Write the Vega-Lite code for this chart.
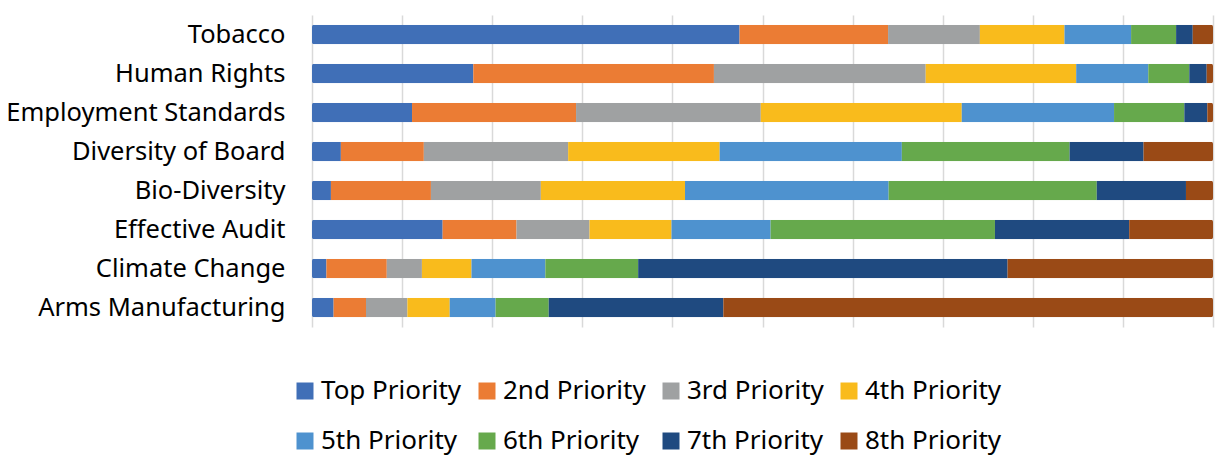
{
  "$schema": "https://vega.github.io/schema/vega-lite/v6.json",
  "autosize": {"type": "none"},
  "padding": {"left": 312, "top": 15, "right": 3, "bottom": 129},
  "width": 901,
  "height": 312,
  "background": "white",
  "config": {"view": {"stroke": null}, "font": "Noto Sans"},
  "data": {"values": [
    {"cat": "Tobacco", "p": "Top Priority", "o": 1, "v": 47.5},
    {"cat": "Tobacco", "p": "2nd Priority", "o": 2, "v": 16.5},
    {"cat": "Tobacco", "p": "3rd Priority", "o": 3, "v": 10.2},
    {"cat": "Tobacco", "p": "4th Priority", "o": 4, "v": 9.4},
    {"cat": "Tobacco", "p": "5th Priority", "o": 5, "v": 7.4},
    {"cat": "Tobacco", "p": "6th Priority", "o": 6, "v": 5.0},
    {"cat": "Tobacco", "p": "7th Priority", "o": 7, "v": 1.85},
    {"cat": "Tobacco", "p": "8th Priority", "o": 8, "v": 2.25},
    {"cat": "Human Rights", "p": "Top Priority", "o": 1, "v": 17.9},
    {"cat": "Human Rights", "p": "2nd Priority", "o": 2, "v": 26.7},
    {"cat": "Human Rights", "p": "3rd Priority", "o": 3, "v": 23.5},
    {"cat": "Human Rights", "p": "4th Priority", "o": 4, "v": 16.7},
    {"cat": "Human Rights", "p": "5th Priority", "o": 5, "v": 8.0},
    {"cat": "Human Rights", "p": "6th Priority", "o": 6, "v": 4.55},
    {"cat": "Human Rights", "p": "7th Priority", "o": 7, "v": 1.93},
    {"cat": "Human Rights", "p": "8th Priority", "o": 8, "v": 0.7},
    {"cat": "Employment Standards", "p": "Top Priority", "o": 1, "v": 11.1},
    {"cat": "Employment Standards", "p": "2nd Priority", "o": 2, "v": 18.2},
    {"cat": "Employment Standards", "p": "3rd Priority", "o": 3, "v": 20.5},
    {"cat": "Employment Standards", "p": "4th Priority", "o": 4, "v": 22.3},
    {"cat": "Employment Standards", "p": "5th Priority", "o": 5, "v": 16.9},
    {"cat": "Employment Standards", "p": "6th Priority", "o": 6, "v": 7.8},
    {"cat": "Employment Standards", "p": "7th Priority", "o": 7, "v": 2.55},
    {"cat": "Employment Standards", "p": "8th Priority", "o": 8, "v": 0.63},
    {"cat": "Diversity of Board", "p": "Top Priority", "o": 1, "v": 3.2},
    {"cat": "Diversity of Board", "p": "2nd Priority", "o": 2, "v": 9.2},
    {"cat": "Diversity of Board", "p": "3rd Priority", "o": 3, "v": 16.0},
    {"cat": "Diversity of Board", "p": "4th Priority", "o": 4, "v": 16.8},
    {"cat": "Diversity of Board", "p": "5th Priority", "o": 5, "v": 20.2},
    {"cat": "Diversity of Board", "p": "6th Priority", "o": 6, "v": 18.6},
    {"cat": "Diversity of Board", "p": "7th Priority", "o": 7, "v": 8.2},
    {"cat": "Diversity of Board", "p": "8th Priority", "o": 8, "v": 7.7},
    {"cat": "Bio-Diversity", "p": "Top Priority", "o": 1, "v": 2.1},
    {"cat": "Bio-Diversity", "p": "2nd Priority", "o": 2, "v": 11.1},
    {"cat": "Bio-Diversity", "p": "3rd Priority", "o": 3, "v": 12.2},
    {"cat": "Bio-Diversity", "p": "4th Priority", "o": 4, "v": 16.0},
    {"cat": "Bio-Diversity", "p": "5th Priority", "o": 5, "v": 22.6},
    {"cat": "Bio-Diversity", "p": "6th Priority", "o": 6, "v": 23.1},
    {"cat": "Bio-Diversity", "p": "7th Priority", "o": 7, "v": 9.9},
    {"cat": "Bio-Diversity", "p": "8th Priority", "o": 8, "v": 3.0},
    {"cat": "Effective Audit", "p": "Top Priority", "o": 1, "v": 14.5},
    {"cat": "Effective Audit", "p": "2nd Priority", "o": 2, "v": 8.2},
    {"cat": "Effective Audit", "p": "3rd Priority", "o": 3, "v": 8.1},
    {"cat": "Effective Audit", "p": "4th Priority", "o": 4, "v": 9.1},
    {"cat": "Effective Audit", "p": "5th Priority", "o": 5, "v": 11.0},
    {"cat": "Effective Audit", "p": "6th Priority", "o": 6, "v": 24.9},
    {"cat": "Effective Audit", "p": "7th Priority", "o": 7, "v": 14.9},
    {"cat": "Effective Audit", "p": "8th Priority", "o": 8, "v": 9.3},
    {"cat": "Climate Change", "p": "Top Priority", "o": 1, "v": 1.6},
    {"cat": "Climate Change", "p": "2nd Priority", "o": 2, "v": 6.7},
    {"cat": "Climate Change", "p": "3rd Priority", "o": 3, "v": 3.9},
    {"cat": "Climate Change", "p": "4th Priority", "o": 4, "v": 5.5},
    {"cat": "Climate Change", "p": "5th Priority", "o": 5, "v": 8.2},
    {"cat": "Climate Change", "p": "6th Priority", "o": 6, "v": 10.3},
    {"cat": "Climate Change", "p": "7th Priority", "o": 7, "v": 41.0},
    {"cat": "Climate Change", "p": "8th Priority", "o": 8, "v": 22.8},
    {"cat": "Arms Manufacturing", "p": "Top Priority", "o": 1, "v": 2.4},
    {"cat": "Arms Manufacturing", "p": "2nd Priority", "o": 2, "v": 3.6},
    {"cat": "Arms Manufacturing", "p": "3rd Priority", "o": 3, "v": 4.6},
    {"cat": "Arms Manufacturing", "p": "4th Priority", "o": 4, "v": 4.7},
    {"cat": "Arms Manufacturing", "p": "5th Priority", "o": 5, "v": 5.1},
    {"cat": "Arms Manufacturing", "p": "6th Priority", "o": 6, "v": 5.9},
    {"cat": "Arms Manufacturing", "p": "7th Priority", "o": 7, "v": 19.4},
    {"cat": "Arms Manufacturing", "p": "8th Priority", "o": 8, "v": 54.4}
  ]},
  "mark": {"type": "bar", "cornerRadius": 2},
  "encoding": {
    "y": {
      "field": "cat", "type": "nominal", "sort": null,
      "scale": {"paddingInner": 0.5, "paddingOuter": 0.25},
      "axis": {"title": null, "domain": false, "ticks": false, "labelFontSize": 25.5, "labelColor": "#000000", "labelPadding": 27, "labelFont": "Noto Sans", "labelLimit": 400}
    },
    "x": {
      "field": "v", "type": "quantitative", "stack": "normalize",
      "scale": {"domain": [0, 1], "nice": false},
      "axis": {"title": null, "labels": false, "labelOverlap": false, "domain": false, "ticks": false, "values": [0, 0.1, 0.2, 0.3, 0.4, 0.5, 0.6, 0.7, 0.8, 0.9, 1], "gridColor": "#d9d9d9", "gridWidth": 1.5}
    },
    "color": {
      "field": "p", "type": "nominal",
      "sort": ["Top Priority", "2nd Priority", "3rd Priority", "4th Priority", "5th Priority", "6th Priority", "7th Priority", "8th Priority"],
      "scale": {
        "domain": ["Top Priority", "2nd Priority", "3rd Priority", "4th Priority", "5th Priority", "6th Priority", "7th Priority", "8th Priority"],
        "range": ["#406fb7", "#eb7c34", "#9fa1a2", "#f9bb1c", "#4e92cf", "#66a94c", "#1f4a80", "#9a4a16"]
      },
      "legend": {
        "title": null, "orient": "none", "legendX": -20, "legendY": 363,
        "direction": "horizontal", "columns": 4, "symbolType": "square", "symbolSize": 289,
        "symbolStrokeWidth": 0, "labelFontSize": 26, "labelColor": "#000000", "labelFont": "Noto Sans",
        "labelOffset": 3, "columnPadding": 12, "rowPadding": 24, "labelLimit": 300
      }
    },
    "order": {"field": "o", "type": "quantitative"}
  }
}
